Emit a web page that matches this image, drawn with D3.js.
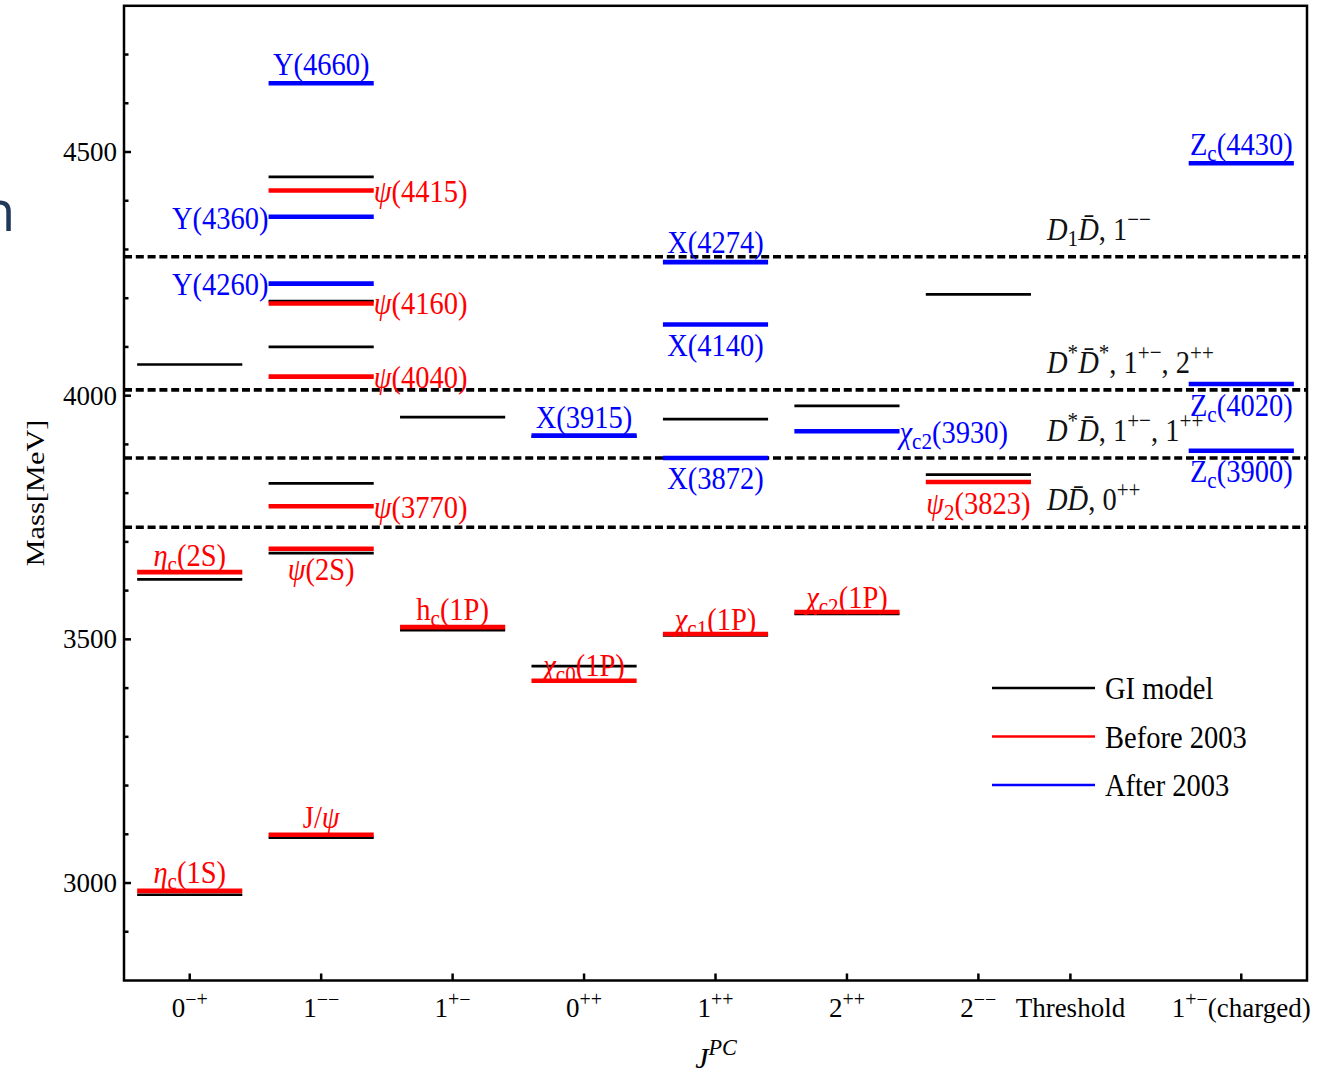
<!DOCTYPE html>
<html><head><meta charset="utf-8">
<script src="https://cdn.jsdelivr.net/npm/d3@7"></script>
<style>
body{margin:0;background:#fff}
svg{display:block}
text{font-family:"Liberation Serif","Times New Roman",serif;fill:#000}
</style>
</head><body>
<svg id="chart" width="1337" height="1079"></svg>
<script>
// ---------- DATA ----------
// x categories (J^PC) and their tick positions on the category axis
const tickBase   = ["0","1","1","0","1","2","2","Threshold","1"];
const tickSup    = ["\u2212+","\u2212\u2212","+\u2212","++","++","++","\u2212\u2212","","+\u2212"];
const tickSuffix = ["","","","","","","","","(charged)"];
const tickPos    = [1,2,3,4,5,6,7,7.7,9];

// y ticks
const yMajorTicks = [3000,3500,4000,4500];
const yMinorTicks = [2900,3100,3200,3300,3400,3600,3700,3800,3900,4100,4200,4300,4400,4600,4700];

// GI model (black)  [category index, mass MeV]
const giModel = [
  [0,2976],[0,3623],[0,4064],
  [1,3093],[1,3677],[1,3820],[1,4100],[1,4194],[1,4449],
  [2,3519],[2,3956],
  [3,3445],[3,3916],
  [4,3508],[4,3952],
  [5,3552],[5,3979],
  [6,3838],[6,4208]
];

// Before 2003 (red)  [category index, mass, label]
const before2003 = [
  [0,2984,"η_c(1S)"],[0,3638,"η_c(2S)"],
  [1,3099,"J/ψ"],[1,3686,"ψ(2S)"],[1,3773,"ψ(3770)"],[1,4039,"ψ(4040)"],[1,4189,"ψ(4160)"],[1,4421,"ψ(4415)"],
  [2,3525,"h_c(1P)"],
  [3,3415,"χ_c0(1P)"],
  [4,3511,"χ_c1(1P)"],
  [5,3556,"χ_c2(1P)"],
  [6,3823,"ψ_2(3823)"]
];

// After 2003 (blue)
const after2003 = [
  [1,4230,"Y(4260)"],[1,4367,"Y(4360)"],[1,4641,"Y(4660)"],
  [3,3918,"X(3915)"],
  [4,3872,"X(3872)"],[4,4146,"X(4140)"],[4,4274,"X(4274)"],
  [5,3927,"χ_c2(3930)"],
  [8,3887,"Z_c(3900)"],[8,4024,"Z_c(4020)"],[8,4477,"Z_c(4430)"]
];

// Thresholds (dashed)
const thresholdMass = [3730,3872,4012,4285];
const thresholdText = [
  [{t:"D",i:1},{t:"D\u0304",i:1},{t:", 0"},{t:"++",sup:1}],
  [{t:"D",i:1},{t:"*",sup:1},{t:"D\u0304",i:1},{t:", 1"},{t:"+\u2212",sup:1},{t:", 1"},{t:"++",sup:1}],
  [{t:"D",i:1},{t:"*",sup:1},{t:"D\u0304",i:1},{t:"*",sup:1},{t:", 1"},{t:"+\u2212",sup:1},{t:", 2"},{t:"++",sup:1}],
  [{t:"D",i:1},{t:"1",sub:1},{t:"D\u0304",i:1},{t:", 1"},{t:"\u2212\u2212",sup:1}]
];

const legendNames  = ["GI model","Before 2003","After 2003"];
const legendColors = ["#000000","#ff0000","#0000ff"];

// ---------- LAYOUT ----------
const svg = d3.select("#chart");
const x = d3.scaleLinear().domain([0.5,9.5]).range([124,1307]);
const y = d3.scaleLinear().domain([2800,4800]).range([980.5,5.8]);
const halfW = 0.4;
const catX = i => tickPos[i];

// helper: rich text
function rich(sel, segs, fs){
  let cur = 0;
  segs.forEach(s=>{
    const target = s.sup ? -0.42*fs : (s.sub ? 0.2*fs : 0);
    const ts = sel.append("tspan").text(s.t);
    if (target-cur !== 0) ts.attr("dy", target-cur);
    cur = target;
    if (s.sup||s.sub) ts.attr("font-size", (fs*0.74)+"px");
    if (s.i) ts.attr("font-style","italic");
  });
}
function parseLabel(str){
  const segs=[];
  const m = str.match(/^([^_(]+)(?:_([^(]+))?(\(.*\))?$/);
  const main=m[1], sub=m[2], rest=m[3];
  for (const ch of main){
    const greek = /[ψηχ]/.test(ch);
    if (segs.length && !!segs[segs.length-1].i===greek && !segs[segs.length-1].sub) segs[segs.length-1].t+=ch;
    else segs.push({t:ch,i:greek?1:0});
  }
  if (sub) segs.push({t:sub,sub:1});
  if (rest) segs.push({t:rest});
  return segs;
}

// left stray slide glyph
svg.append("text").attr("x",-19).attr("y",231)
  .style("font-family","'Open Sans',sans-serif").style("fill","#20395a")
  .attr("font-size","56px").text("n");

// frame
const g = svg.append("g");
g.append("rect").attr("x",x(0.5)).attr("y",y(4800)).attr("width",x(9.5)-x(0.5)).attr("height",y(2800)-y(4800))
  .attr("fill","none").attr("stroke","#000").attr("stroke-width",2.5);

// y ticks
g.selectAll(".ymaj").data(yMajorTicks).join("line")
  .attr("x1",x(0.5)).attr("x2",x(0.5)+7).attr("y1",d=>y(d)).attr("y2",d=>y(d))
  .attr("stroke","#000").attr("stroke-width",2.5);
g.selectAll(".ymin").data(yMinorTicks).join("line")
  .attr("x1",x(0.5)).attr("x2",x(0.5)+4.5).attr("y1",d=>y(d)).attr("y2",d=>y(d))
  .attr("stroke","#000").attr("stroke-width",2.5);
g.selectAll(".ylab").data(yMajorTicks).join("text")
  .attr("x",x(0.5)-7).attr("y",d=>y(d)+9).attr("text-anchor","end")
  .attr("font-size","27px").text(d=>d);

// x ticks
g.selectAll(".xt").data(tickPos).join("line")
  .attr("x1",d=>x(d)).attr("x2",d=>x(d)).attr("y1",y(2800)).attr("y2",y(2800)-7)
  .attr("stroke","#000").attr("stroke-width",2.5);
tickPos.forEach((p,i)=>{
  const t = g.append("text").attr("x",x(p)).attr("y",1017).attr("text-anchor","middle").attr("font-size","27px");
  const segs=[{t:tickBase[i]}];
  if (tickSup[i]) segs.push({t:tickSup[i],sup:1});
  if (tickSuffix[i]) segs.push({t:tickSuffix[i]});
  rich(t,segs,27);
});

// axis titles
const jt = g.append("text").attr("x",716).attr("y",1068).attr("text-anchor","middle").attr("font-size","30px");
rich(jt,[{t:"J",i:1},{t:"PC",sup:1,i:1}],30);
g.append("text").attr("transform","translate(44,493) rotate(-90) scale(1.17,1)")
  .attr("text-anchor","middle").attr("font-size","26px").text("Mass[MeV]");

// thresholds
g.selectAll(".thr").data(thresholdMass).join("line")
  .attr("x1",x(0.5)).attr("x2",x(9.5)).attr("y1",d=>y(d)).attr("y2",d=>y(d))
  .attr("stroke","#000").attr("stroke-width",3.6).attr("stroke-dasharray","8,3.8");
thresholdMass.forEach((m,i)=>{
  const t = g.append("text").attr("transform",`translate(1047,${y(m)-17}) scale(0.92,1)`)
    .attr("font-size","31px").style("fill","#111");
  rich(t,thresholdText[i],31);
});

// levels
function levels(data,color,w){
  g.selectAll(null).data(data).join("line")
    .attr("x1",d=>x(catX(d[0])-halfW)).attr("x2",d=>x(catX(d[0])+halfW))
    .attr("y1",d=>y(d[1])).attr("y2",d=>y(d[1]))
    .attr("stroke",color).attr("stroke-width",w);
}
levels(giModel,"#000",2.7);
levels(before2003,"#ff0000",4.6);
levels(after2003,"#0000ff",4.6);

// label placement (style only): [mode, dy]
const place = {
  "η_c(1S)":["above",-8],"η_c(2S)":["above",-6],"J/ψ":["above",-7],"ψ(2S)":["below",31],
  "ψ(3770)":["right",12],"ψ(4040)":["right",11],"ψ(4160)":["right",10],"ψ(4415)":["right",11],
  "h_c(1P)":["above",-7],"χ_c0(1P)":["above",-5],"χ_c1(1P)":["above",-4],"χ_c2(1P)":["above",-4],
  "ψ_2(3823)":["below",32],
  "Y(4260)":["left",11],"Y(4360)":["left",12],"Y(4660)":["above",-8],
  "X(3915)":["above",-8],"X(3872)":["below",31],"X(4140)":["below",31],"X(4274)":["above",-9],
  "χ_c2(3930)":["right",12],
  "Z_c(3900)":["below",31],"Z_c(4020)":["below",32],"Z_c(4430)":["above",-8]
};
function labels(data,color){
  data.forEach(d=>{
    const [mode,dy] = place[d[2]];
    let px = x(catX(d[0])), anchor="middle";
    if (mode==="right"){ px = x(catX(d[0])+halfW); anchor="start"; }
    if (mode==="left"){ px = x(catX(d[0])-halfW); anchor="end"; }
    const t = g.append("text").attr("transform",`translate(${px},${y(d[1])+dy}) scale(0.92,1)`)
      .attr("text-anchor",anchor).attr("font-size","31px").style("fill",color);
    rich(t,parseLabel(d[2]),31);
    t.selectAll("tspan").style("fill",color);
  });
}
labels(before2003,"#ff0000");
labels(after2003,"#0000ff");

// legend
legendNames.forEach((n,i)=>{
  const ly = 688 + i*48.5;
  g.append("line").attr("x1",992).attr("x2",1095).attr("y1",ly).attr("y2",ly)
    .attr("stroke",legendColors[i]).attr("stroke-width",2.5);
  g.append("text").attr("transform",`translate(1105,${ly+11}) scale(0.92,1)`)
    .attr("font-size","31px").text(n);
});
</script>
</body></html>
